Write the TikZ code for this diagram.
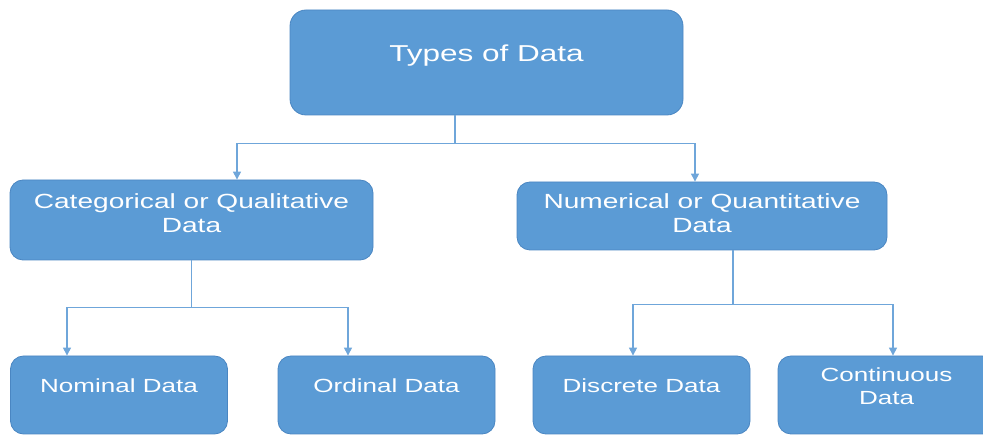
\documentclass[tikz,border=0pt]{standalone}
\usepackage{fontspec}
\newfontfamily\boxfont{Liberation Sans}[FakeStretch=1.37]
\usetikzlibrary{arrows.meta}
\definecolor{boxblue}{HTML}{5B9BD5}
\definecolor{boxedge}{HTML}{4A86C2}
\definecolor{linkblue}{HTML}{6FA6DA}
\tikzset{
  databox/.style={draw=boxedge,fill=boxblue,text=white,inner sep=0pt,align=center,
    rounded corners=13pt,line width=0.8pt},
  topbox/.style={databox,rounded corners=16pt,minimum width=393pt,minimum height=105pt,
    font=\boxfont\fontsize{23}{27}\selectfont},
  midbox/.style={databox,minimum height=#1,
    font=\boxfont\fontsize{20.5}{24}\selectfont},
  leafbox/.style={databox,minimum width=217pt,minimum height=78pt,
    font=\boxfont\fontsize{19}{23.3}\selectfont},
  link/.style={draw=linkblue,line width=1.1pt},
  arr/.style={link,-{Triangle[width=8pt,length=8pt]}}
}
\begin{document}
\begin{tikzpicture}[x=1pt,y=-1pt]
\useasboundingbox (0,0) rectangle (983,435);

\node[topbox,text height=17pt,text depth=18pt] (types) at (486.5,62.5) {Types of Data};

\node[midbox=80pt,minimum width=363pt,text height=50pt,text depth=24pt] (cat) at (191.5,220)
  {Categorical or Qualitative\\Data};
\node[midbox=68pt,minimum width=370pt,text height=50pt,text depth=16pt] (num) at (702,216)
  {Numerical or Quantitative\\Data};

\foreach \n/\x/\t in {nom/119/Nominal Data,ord/386.5/Ordinal Data,dis/641.5/Discrete Data}
  \node[leafbox,text height=14pt,text depth=18pt] (\n) at (\x,395) {\t};
\node[leafbox,text height=44pt,text depth=24pt] (con) at (886.5,395) {Continuous\\Data};

% top level
\draw[link] ([xshift=-31.5pt]types.south) -- ++(0,28) coordinate (tj);
\draw[arr] (tj) -| ([xshift=45.5pt]cat.north);
\draw[arr] (tj) -| ([xshift=-7pt]num.north);

% categorical
\draw[link] (cat.south) -- ++(0,47) coordinate (cj);
\draw[arr] (cj) -| ([xshift=-52pt]nom.north);
\draw[arr] (cj) -| ([xshift=-38.5pt]ord.north);

% numerical
\draw[link] ([xshift=31pt]num.south) -- ++(0,54) coordinate (nj);
\draw[arr] (nj) -| ([xshift=-8.5pt]dis.north);
\draw[arr] (nj) -| ([xshift=6.5pt]con.north);
\end{tikzpicture}
\end{document}
